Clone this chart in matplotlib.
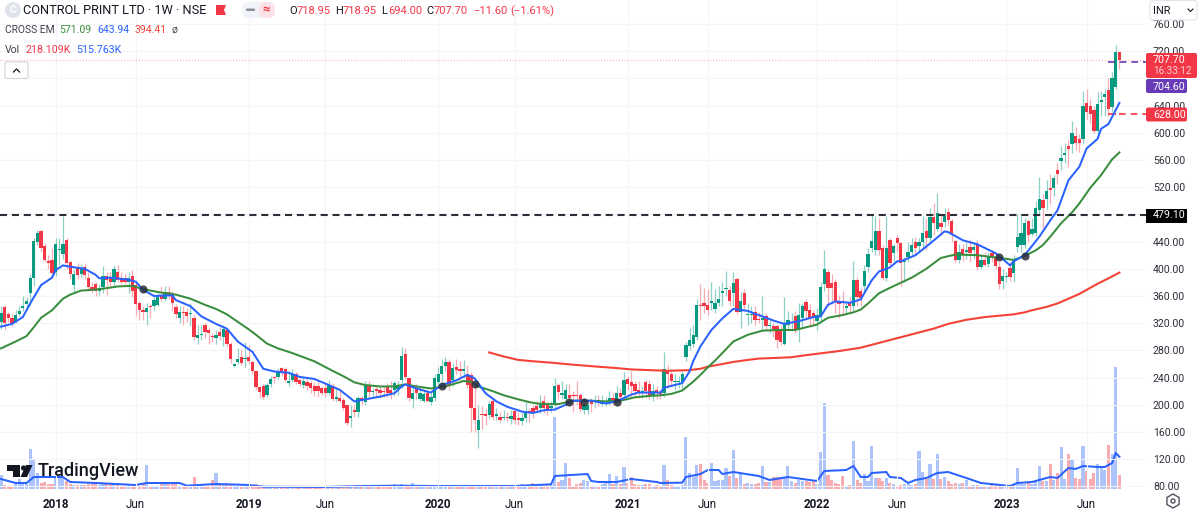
import numpy as np
import matplotlib
matplotlib.use("Agg")
import matplotlib.pyplot as plt
from matplotlib.patches import Circle, FancyBboxPatch, Polygon, Rectangle, RegularPolygon

plt.rcParams["font.family"] = ["Roboto", "DejaVu Sans"]

# ---------------------------
# weekly candles
# ---------------------------
opens = [
    322,344,333,328,322,333,343,348,364,386,
    440,455,434,411,413,396,427,422,443,410,
    376,402,392,403,387,373,377,367,373,389,
    387,380,395,386,386,380,390,376,349,340,
    336,346,345,347,361,356,366,363,344,327,
    337,337,333,327,298,302,317,310,301,298,
    307,299,310,290,257,263,270,267,271,263,
    249,226,227,214,231,240,241,254,252,232,
    237,245,236,229,233,232,228,228,224,224,
    218,228,208,210,207,199,181,193,189,210,
    204,229,219,223,222,221,227,222,222,223,
    236,275,239,209,224,208,206,217,204,210,
    234,246,257,263,237,255,251,250,246,244,
    195,163,187,186,185,205,184,182,180,181,
    179,191,180,176,180,190,196,198,195,206,
    199,196,200,229,215,209,214,215,215,214,
    192,192,206,205,207,201,201,204,210,203,
    217,214,238,233,230,222,219,233,230,214,
    222,218,217,251,245,233,233,234,270,286,
    290,299,347,350,347,350,341,349,364,370,
    369,364,385,337,365,332,332,337,326,325,
    330,316,316,316,308,289,318,320,331,310,
    327,351,339,335,323,330,377,395,379,380,
    351,352,343,350,345,384,367,374,402,431,
    428,455,430,386,443,423,446,438,410,417,
    425,440,433,439,456,445,476,459,467,469,
    483,470,441,413,429,425,432,427,437,402,
    413,407,423,416,403,382,388,401,394,432,
    435,435,471,451,452,487,501,502,519,519,
    545,558,568,580,584,595,591,591,644,640,
    633,603,646,652,663,638,667,718.95,
]
closes = [
    335,320,327,321,332,338,346,352,386,441,
    452,431,413,408,394,437,428,436,408,393,
    393,391,400,391,373,369,367,372,389,383,
    380,399,383,381,381,387,368,348,339,336,
    342,344,354,359,355,364,362,349,334,336,
    335,330,334,300,302,303,307,305,299,302,
    301,311,289,267,260,267,262,269,264,249,
    226,219,212,229,238,239,250,250,237,235,
    245,234,231,235,228,225,221,221,218,218,
    229,208,211,206,196,173,184,190,210,206,
    228,219,219,220,217,219,218,218,232,228,
    272,241,210,217,217,217,216,206,212,240,
    246,257,263,227,254,251,250,250,229,195,
    177,178,185,184,201,182,187,178,181,180,
    184,178,178,181,188,189,190,192,201,195,
    193,197,228,219,218,222,210,213,213,194,
    199,200,201,206,202,203,203,210,204,217,
    212,237,230,228,220,218,220,220,215,220,
    217,216,252,246,235,234,234,246,288,295,
    303,347,345,346,340,350,350,355,368,370,
    353,379,337,352,347,332,333,325,324,326,
    316,317,311,295,293,319,324,320,310,332,
    345,338,327,327,332,373,399,372,372,352,
    348,350,344,345,384,359,357,397,422,441,
    455,427,387,430,409,434,438,409,411,425,
    435,430,439,452,446,476,467,482,461,478,
    472,452,413,425,422,427,423,432,402,413,
    406,417,417,404,378,389,389,388,412,447,
    452,467,450,458,489,502,490,514,516,534,
    540,563,571,576,599,585,585,640,631,628,
    603,643,647,657,635,680,719,707.70,
]
highs = [
    345,347,336,333,340,345,360,358,392,445,
    457,457,438,420,430,445,445,478,445,412,
    400,408,407,408,395,380,380,378,404,395,
    395,406,405,395,392,396,398,380,352,345,
    350,348,362,365,375,375,375,368,348,345,
    345,343,350,332,318,318,320,315,306,310,
    315,318,312,293,262,283,282,293,288,265,
    250,228,230,232,243,243,254,256,255,250,
    252,248,240,240,238,235,233,236,228,232,
    236,232,225,220,210,200,200,200,213,213,
    235,235,225,226,228,228,232,235,235,235,
    285,283,240,225,230,225,222,222,218,245,
    255,268,270,268,262,268,265,266,258,248,
    232,200,198,195,206,208,195,190,192,190,
    192,195,190,190,205,195,200,205,215,215,
    206,205,240,232,235,231,230,220,235,218,
    210,205,210,214,215,215,212,220,218,228,
    225,248,242,250,235,235,228,236,236,230,
    228,222,278,258,250,245,242,250,292,315,
    318,355,378,372,370,380,370,375,380,397,
    375,395,388,366,370,350,345,345,337,360,
    335,325,320,318,318,358,338,335,338,350,
    350,355,348,340,342,380,428,400,392,385,
    362,368,353,358,412,388,372,405,430,479,
    478,475,435,478,445,437,450,440,418,440,
    445,447,445,478,475,490,497,512,480,490,
    490,473,442,436,436,440,444,438,442,420,
    425,425,428,420,410,400,395,410,420,480,
    478,475,473,475,500,535,510,530,540,538,
    555,580,585,590,618,608,598,662,665,650,
    640,660,662,665,680,690,729,718.95,
]
lows = [
    312,310,322,316,320,330,338,342,345,375,
    435,425,410,400,390,390,405,415,400,385,
    365,385,388,385,368,365,360,362,365,362,
    372,375,380,378,378,365,358,330,325,325,
    318,327,340,345,352,352,355,338,328,320,
    318,322,316,295,289,295,298,290,292,290,
    295,286,285,262,256,260,258,255,260,245,
    222,210,208,212,226,232,238,243,233,228,
    233,230,228,225,222,218,213,212,215,212,
    215,205,205,204,192,171,168,182,182,200,
    200,208,212,212,210,212,212,208,213,215,
    225,238,205,195,208,205,204,204,200,205,
    228,235,250,222,228,245,235,240,225,160,
    160,136,165,170,180,178,178,175,177,176,
    172,172,170,170,174,175,180,188,188,188,
    185,190,192,208,208,198,205,190,200,190,
    186,186,190,195,198,198,198,200,200,198,
    198,208,222,212,212,210,210,212,208,205,
    208,208,212,225,228,222,225,225,265,280,
    285,295,325,335,332,340,335,345,345,360,
    345,345,333,313,340,318,320,318,320,308,
    310,305,300,283,288,288,310,310,305,293,
    315,325,315,318,310,320,368,345,348,335,
    328,332,335,335,338,345,345,365,395,425,
    420,420,383,382,403,410,425,375,381,410,
    420,420,425,430,428,440,450,455,450,462,
    465,440,408,408,412,415,410,415,398,400,
    404,402,410,400,370,370,380,382,380,425,
    425,430,440,448,448,480,460,488,495,507,
    525,546,555,550,570,575,572,585,620,615,
    600,595,625,625,625,630,665,694,
]
# volume in thousands
volumes = [
    224,64,48,48,80,160,80,80,640,464,
    256,96,112,80,80,192,192,192,128,80,
    64,64,64,64,80,80,96,64,80,80,
    80,96,64,48,48,64,64,48,48,96,
    384,48,48,48,80,80,80,80,80,48,
    48,64,64,192,48,64,48,48,144,256,
    96,80,96,80,48,48,32,32,48,48,
    80,48,32,32,32,32,32,32,32,32,
    32,32,32,32,32,32,32,32,32,32,
    32,32,32,32,48,64,48,48,64,32,
    48,32,32,32,32,32,48,48,80,32,
    80,48,48,96,48,48,32,32,32,48,
    64,48,48,48,48,48,48,48,48,64,
    64,48,48,32,32,48,32,32,32,32,
    32,48,48,80,48,48,96,64,64,80,
    64,64,1152,112,144,416,176,48,80,96,
    144,128,48,48,48,80,96,240,80,208,
    80,352,96,192,80,64,64,80,80,48,
    64,48,384,144,64,48,48,64,832,256,
    192,384,400,144,96,416,128,144,144,336,
    208,624,176,256,80,96,80,80,96,368,
    112,112,192,192,192,192,368,128,96,144,
    128,128,112,128,80,592,1376,224,144,96,
    80,208,48,64,768,144,96,240,128,688,
    176,176,128,176,96,80,48,64,80,80,
    64,80,608,272,160,400,160,560,160,192,
    128,80,96,80,96,144,48,64,64,48,
    32,48,64,80,64,48,48,32,64,336,
    80,80,96,80,128,368,128,128,400,144,
    256,672,160,560,464,176,160,688,288,160,
    256,400,368,304,704,560,1952,218.109,
]

# ---------------------------
# moving averages, sampled by week number
# ---------------------------
blue_weeks = [0,3,6,8,11,14,15,17,19,23,26,27,30,35,37,39,42,47,48,52,55,59,62,65,69,72,75,79,82,86,
              90,93,97,99,104,108,110,111,114,118,119,121,125,128,130,133,136,139,143,146,149,152,155,157,162,166,169,171,173,175,
              181,182,187,189,190,192,195,198,201,205,209,212,215,219,223,225,227,229,233,236,239,241,244,246,247,251,255,259,260,264,
              268,273,274,277,278,281,285,288,290,293,296,298,301,302,304,307]
blue_ema = [315,319,329,349,376,387,398,405,403,400,391,386,387,384,381,369,360,361,354,345,330,319,312,293,278,253,249,247,241,238,
            229,222,205,207,212,217,227,230,224,218,222,229,236,244,239,217,205,197,190,188,192,193,200,206,206,202,205,210,215,218,
            218,225,232,249,264,286,310,327,341,338,330,324,319,323,329,330,347,352,350,355,383,396,402,411,411,420,437,455,454,442,
            436,423,419,405,411,420,447,471,486,530,550,577,591,606,613,643.94]
green_weeks = [0,2,4,7,9,11,14,17,19,22,25,27,32,36,39,44,46,48,52,56,59,62,65,68,70,73,76,80,83,86,
               91,94,97,100,104,108,111,114,118,122,127,129,131,135,138,142,145,147,150,153,157,162,166,170,174,178,181,184,187,190,
               192,194,196,198,201,203,205,207,209,213,218,221,224,227,229,231,234,236,238,241,244,246,250,254,258,262,268,274,278,281,
               284,286,288,291,294,296,299,302,305,307]
green_ema = [283,288,293,301,314,328,339,356,362,368,369,370,374,375,370,365,364,362,356,347,341,333,322,311,303,290,283,276,270,264,
             250,242,233,229,227,227,230,227,224,227,235,234,227,220,214,208,204,202,201,201,206,206,205,206,211,213,214,216,221,234,
             244,255,265,276,293,298,303,306,309,310,310,314,318,328,330,332,336,340,349,364,372,377,387,400,416,421,420,416,413,419,
             427,435,447,467,483,496,519,538,561,571.09]
red_weeks = [134,138,142,146,151,157,164,169,173,178,183,189,192,194,198,201,205,208,213,217,221,224,230,236,241,246,251,256,260,265,
             270,274,278,281,283,287,290,293,296,299,301,304,307]
red_ema = [277,271,266,264,262,259,256,254,252,251,250,251,253,256,260,263,266,268,269,270,273,275,279,284,291,298,305,312,319,325,
           329,331,333,336,339,344,349,356,363,372,378,386,394.41]

vol_ma_weeks = [0,3,4,7,9,11,17,19,26,37,40,49,51,59,68,72,88,100,109,119,141,151,152,161,162,
                164,169,173,180,181,187,188,192,194,197,198,201,208,211,216,224,226,232,234,236,238,239,243,244,247,
                249,251,254,257,260,265,269,277,279,283,288,290,293,295,297,301,303,305,306,307]
vol_ma = [160,112,96,96,192,192,192,112,96,64,96,96,53,80,64,37,32,48,53,48,48,75,208,240,128,
          112,112,160,112,96,101,192,240,304,304,240,272,208,144,192,128,288,304,368,192,192,256,272,192,176,
          96,144,176,256,272,176,96,48,96,112,192,176,336,320,368,352,352,416,576,515.763]

cross_weeks = [39,121,130,156,160,169,274,281]
cross_prices = [370,228,231,204,204,204,417,419]

tick_weeks = [15,37,68,89,120,141,172,194,224,246,276,298]
tick_labels = ["2018","Jun","2019","Jun","2020","Jun","2021","Jun","2022","Jun","2023","Jun"]
price_ticks = np.arange(80, 761, 40)
# these two sit behind the price labels on the scale
hidden_ticks = [480, 680]

# ---------------------------
# colours
# ---------------------------
UP = "#089981"
DOWN = "#f23645"
UP_WICK = "#8ed0c5"
DOWN_WICK = "#f9adb3"
BLUE = "#2962ff"
GREEN = "#388e3c"
RED_LINE = "#f44336"
TEXT = "#131722"
GRID = "#f4f5f7"

# ---------------------------
# axes
# ---------------------------
W, H = 1200, 512
fig = plt.figure(figsize=(W / 100, H / 100), dpi=100)
pos = [0, 1 - 490 / H, 1146 / W, 490 / H]

ax_vol = fig.add_axes(pos, zorder=1)
ax = fig.add_axes(pos, zorder=2)
ax.patch.set_visible(False)
ax_vol.axis("off")

xlim = (-1 / 3.643, 1145 / 3.643)
ax.set_xlim(xlim)
ax_vol.set_xlim(xlim)
ax.set_ylim(80 - 3.6 / 0.68, 80 + 486.4 / 0.68)
ax_vol.set_ylim(-16, 16 * 489)

for s in ax.spines.values():
    s.set_visible(False)
ax.yaxis.tick_right()
ax.set_yticks(price_ticks)
ax.set_yticklabels(["" if p in hidden_ticks else "%.2f" % p for p in price_ticks], fontsize=7.6, color="#2a2e39")
ax.set_xticks(tick_weeks)
ax.set_xticklabels(tick_labels, fontsize=8.4, color=TEXT)
for lab in ax.get_xticklabels():
    if lab.get_text() != "Jun":
        lab.set_fontweight("bold")
ax.tick_params(axis="both", length=0)
ax.tick_params(axis="y", pad=5)
ax.tick_params(axis="x", pad=6)
ax.grid(True, color=GRID, linewidth=0.8)
ax.set_axisbelow(True)

# ---------------------------
# volume
# ---------------------------
weeks = np.arange(len(opens))
o = np.array(opens)
c = np.array(closes)
h = np.array(highs)
l = np.array(lows)
rising = c >= o

vol_colors = np.where(rising, "#adc3fb", "#f8abb1")
ax_vol.bar(weeks, volumes, width=0.86, color=vol_colors, linewidth=0)
ax_vol.plot(vol_ma_weeks, vol_ma, color=BLUE, linewidth=1.45)

# ---------------------------
# candles and averages
# ---------------------------
ax.axhline(707.7, color="#f7b4ba", linestyle=":", linewidth=0.8, zorder=1)

ax.vlines(weeks, l, h, colors=np.where(rising, UP_WICK, DOWN_WICK), linewidth=0.9, zorder=2)
body_bottom = np.minimum(o, c)
body_height = np.maximum(np.abs(c - o), 2)
ax.bar(weeks, body_height, bottom=body_bottom, width=0.9,
       color=np.where(rising, UP, DOWN), linewidth=0, zorder=3)

ax.plot(red_weeks, red_ema, color=RED_LINE, linewidth=1.5, zorder=4)
ax.plot(green_weeks, green_ema, color=GREEN, linewidth=1.45, zorder=4)
ax.plot(blue_weeks, blue_ema, color=BLUE, linewidth=1.45, zorder=5)
ax.scatter(cross_weeks, cross_prices, s=34, color="#2a2e39", alpha=0.85, linewidth=0, zorder=6)

ax.axhline(479.10, color="#2a2e39", linewidth=1.5, dashes=(3.4, 2.3), zorder=4)
ax.hlines(704.60, 304, xlim[1], color="#673ab7", linewidth=1.2, linestyles=(0, (4, 3)), zorder=4)
ax.hlines(628.00, 304, 306, color=DOWN, linewidth=1.2, zorder=4)
ax.hlines(628.00, 307, xlim[1], color=DOWN, linewidth=1.2, linestyles=(0, (4, 3)), zorder=4)

# ---------------------------
# overlay in pixels: legend, price labels, logo
# ---------------------------
ov = fig.add_axes([0, 0, 1, 1], zorder=10)
ov.set_xlim(0, W)
ov.set_ylim(H, 0)
ov.axis("off")


def label(x, y, s, color=TEXT, size=8.0, **kw):
    ov.text(x, y, s, color=color, fontsize=size, va="center", ha=kw.pop("ha", "left"), **kw)


def box(x0, y0, x1, y1, face, edge="none", r=2):
    ov.add_patch(FancyBboxPatch((x0, y0), x1 - x0, y1 - y0, boxstyle="round,pad=0,rounding_size=%s" % r,
                                facecolor=face, edgecolor=edge, linewidth=0.8))


# symbol line
ov.add_patch(Circle((13, 10), 8, facecolor="#e0e3eb", edgecolor="none"))
label(13, 10, "C", color="white", size=7.5, ha="center", fontweight="bold")
label(23, 10, "CONTROL PRINT LTD · 1W · NSE", size=9.2)
ov.add_patch(Polygon([(216, 5), (226, 5), (224, 10), (226, 15), (216, 15)], facecolor="#f23645", edgecolor="none"))
box(242, 2, 275, 18, "#f0f3fa", r=7)
box(259, 2, 275, 18, "#fde3e7", r=7)
box(246, 8.5, 255, 11, "#8a8e99", r=1)
label(266, 9.5, "≈", color=DOWN, size=9.5, ha="center", fontweight="bold")

for x, s, col in [(289, "O", TEXT), (297, "718.95", DOWN), (335, "H", TEXT), (343, "718.95", DOWN),
                  (381, "L", TEXT), (388, "694.00", DOWN), (426, "C", TEXT), (434, "707.70", DOWN),
                  (473, "−11.60", DOWN), (510, "(−1.61%)", DOWN)]:
    label(x, 11, s, color=col, size=8.0)

# indicator lines
label(5, 30, "CROSS EM", color="#3c404c", size=7.4)
label(59, 30, "571.09", color="#388e3c", size=7.6)
label(97, 30, "643.94", color=BLUE, size=7.6)
label(135, 30, "394.41", color=RED_LINE, size=7.6)
label(172, 30, "ø", color="#50535e", size=7.6)
label(5, 50, "Vol", color="#3c404c", size=7.6)
label(26, 50, "218.109K", color=DOWN, size=7.7)
label(76, 50, "515.763K", color=BLUE, size=7.7)

# collapse button
box(5, 62, 28, 78.5, "white", edge="#d1d4dc")
ov.plot([13.5, 16.5, 19.5], [72, 69, 72], color=TEXT, linewidth=0.9)

# right hand scale labels
box(1146, 53, 1197, 78, DOWN)
label(1153, 60, "707.70", color="white", size=7.7)
label(1153, 71.5, "16:33:12", color="#fbd0d4", size=7.2)
box(1146, 79, 1187, 93, "#673ab7")
label(1153, 86.5, "704.60", color="white", size=7.7)
box(1146, 107.5, 1187, 121.5, DOWN)
label(1153, 114.5, "628.00", color="white", size=7.7)
ov.add_patch(Rectangle((1146, 208.5), 41, 14, facecolor="black", edgecolor="none"))
label(1153, 215.5, "479.10", color="white", size=7.7)

# currency box
box(1150, 0.5, 1197, 20, "white", edge="#e0e3eb", r=3)
label(1153, 10.5, "INR", size=7.8)
ov.plot([1188, 1190.5, 1193], [9, 11.5, 9], color=TEXT, linewidth=0.8)

# settings icon
ov.add_patch(RegularPolygon((1173, 501), 6, radius=7, facecolor="none", edgecolor="#50535e", linewidth=1))
ov.add_patch(Circle((1173, 501), 2, facecolor="none", edgecolor="#50535e", linewidth=1))

# logo
ov.add_patch(Polygon([(7, 465), (20, 465), (20, 477), (13, 477), (13, 471), (7, 471)], facecolor=TEXT, edgecolor="none"))
ov.add_patch(Circle((23.5, 468), 2.6, facecolor=TEXT, edgecolor="none"))
ov.add_patch(Polygon([(26, 465), (32.5, 465), (27, 477), (20.5, 477)], facecolor=TEXT, edgecolor="none"))
label(38, 471.5, "TradingView", size=13, fontweight="medium")

fig.savefig("out.png", dpi=100)
